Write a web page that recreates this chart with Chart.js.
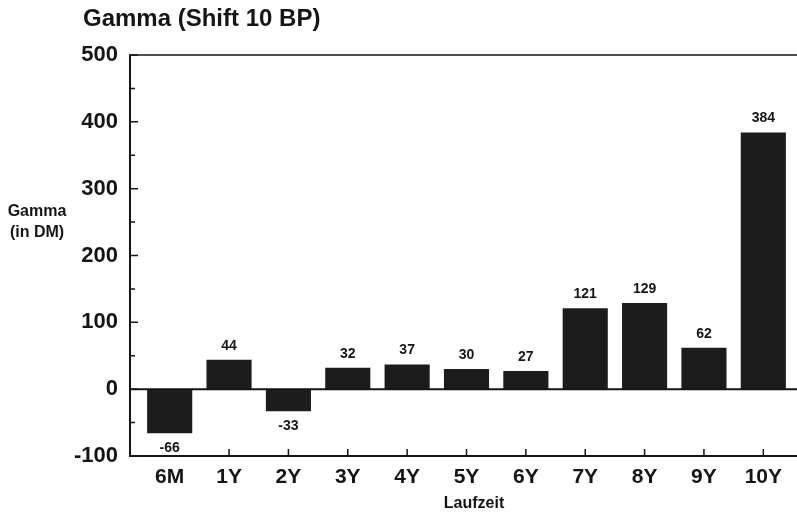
<!DOCTYPE html>
<html>
<head>
<meta charset="utf-8">
<title>Gamma (Shift 10 BP)</title>
<script src="https://cdn.jsdelivr.net/npm/chart.js@4.4.1/dist/chart.umd.min.js"></script>
<style>
  html, body { margin: 0; padding: 0; background: #fff; }
  #wrap { width: 797px; height: 517px; position: relative; }
</style>
</head>
<body>
<div id="wrap"><canvas id="gammaChart"></canvas></div>
<script>
'use strict';

/* ── DATA ── */
const categories  = ['6M', '1Y', '2Y', '3Y', '4Y', '5Y', '6Y', '7Y', '8Y', '9Y', '10Y'];
const gammaValues = [-66, 44, -33, 32, 37, 30, 27, 121, 129, 62, 384];
const yTicks      = [-100, 0, 100, 200, 300, 400, 500];

const INK  = '#151515';
const FONT = "'Liberation Sans', Arial, Helvetica, sans-serif";

/* ── Frame, tick marks, value labels and captions ── */
const decorPlugin = {
  id: 'decor',
  afterDatasetsDraw(chart) {
    const { ctx, chartArea, scales } = chart;
    const xs = scales.x, ys = scales.y;
    const axisX = chartArea.left - 10;
    const rightX = chart.width;
    const top = chartArea.top, bottom = chartArea.bottom;

    ctx.save();
    ctx.strokeStyle = INK;
    ctx.lineCap = 'butt';

    // top border
    ctx.lineWidth = 1.5;
    ctx.beginPath();
    ctx.moveTo(axisX, top); ctx.lineTo(rightX, top);
    ctx.stroke();

    // left axis, bottom axis, zero line
    ctx.lineWidth = 2;
    ctx.beginPath();
    ctx.moveTo(axisX, top - 0.75); ctx.lineTo(axisX, bottom + 1);
    ctx.moveTo(axisX - 1, bottom); ctx.lineTo(rightX, bottom);
    const y0 = ys.getPixelForValue(0);
    ctx.moveTo(axisX, y0); ctx.lineTo(rightX, y0);
    ctx.stroke();

    // y tick marks (major + half steps), pointing inward
    ctx.lineWidth = 1.5;
    ctx.beginPath();
    for (let i = 0; i < yTicks.length; i++) {
      const py = ys.getPixelForValue(yTicks[i]);
      ctx.moveTo(axisX, py); ctx.lineTo(axisX + 8, py);
      if (i < yTicks.length - 1) {
        const mid = ys.getPixelForValue((yTicks[i] + yTicks[i + 1]) / 2);
        ctx.moveTo(axisX, mid); ctx.lineTo(axisX + 5, mid);
      }
    }
    // x tick marks, pointing up from the bottom axis
    categories.forEach((c, i) => {
      const px = xs.getPixelForValue(i);
      ctx.moveTo(px, bottom); ctx.lineTo(px, bottom - 7);
    });
    ctx.stroke();

    // value labels (negative ones sit on a white patch that hides tick marks)
    ctx.font = `bold 14px ${FONT}`;
    ctx.textAlign = 'center';
    ctx.textBaseline = 'middle';
    const meta = chart.getDatasetMeta(0);
    meta.data.forEach((bar, i) => {
      const v = gammaValues[i];
      const txt = String(v);
      if (v >= 0) {
        ctx.fillStyle = INK;
        ctx.fillText(txt, bar.x, bar.y - 14);
      } else {
        const w = ctx.measureText(txt).width + 4;
        const ly = bar.y + 15;
        ctx.fillStyle = '#fff';
        ctx.fillRect(bar.x - w / 2, ly - 7, w, Math.min(14, bottom - 1 - (ly - 7)));
        ctx.fillStyle = INK;
        ctx.fillText(txt, bar.x, ly);
      }
    });

    // title
    ctx.fillStyle = INK;
    ctx.textAlign = 'left';
    ctx.font = `bold 24px ${FONT}`;
    ctx.fillText('Gamma (Shift 10 BP)', 83, 19);

    // y axis caption
    ctx.textAlign = 'center';
    ctx.font = `bold 16px ${FONT}`;
    ctx.fillText('Gamma', 37, 212);
    ctx.fillText('(in DM)', 37, 233);

    // x axis caption
    ctx.fillText('Laufzeit', 474, 504);

    ctx.restore();
  },
};

/* ── CHART ── */
new Chart(document.getElementById('gammaChart'), {
  type: 'bar',
  data: {
    labels: categories,
    datasets: [{
      label: 'Gamma',
      data: gammaValues,
      backgroundColor: '#1c1c1c',
      borderWidth: 0,
      barPercentage: 0.76,
      categoryPercentage: 1.0,
    }],
  },
  options: {
    responsive: true,
    maintainAspectRatio: false,
    animation: false,
    layout: { padding: { top: 55, right: 4, left: 0, bottom: 0 } },
    plugins: {
      legend: { display: false },
      tooltip: { enabled: false },
      title: { display: false },
    },
    scales: {
      x: {
        offset: true,
        grid: { display: false, drawTicks: false },
        border: { display: false },
        ticks: {
          color: INK,
          font: { family: FONT, size: 21, weight: 'bold' },
          padding: 9,
          maxRotation: 0,
          autoSkip: false,
        },
        afterFit: (s) => { s.height = 61; },
      },
      y: {
        min: yTicks[0],
        max: yTicks[yTicks.length - 1],
        grid: { display: false, drawTicks: false },
        border: { display: false },
        ticks: {
          color: INK,
          font: { family: FONT, size: 22, weight: 'bold' },
          padding: 22,
        },
        afterBuildTicks: (s) => { s.ticks = yTicks.map(v => ({ value: v })); },
        afterFit: (s) => { s.width = 140; },
      },
    },
  },
  plugins: [decorPlugin],
});
</script>
</body>
</html>
